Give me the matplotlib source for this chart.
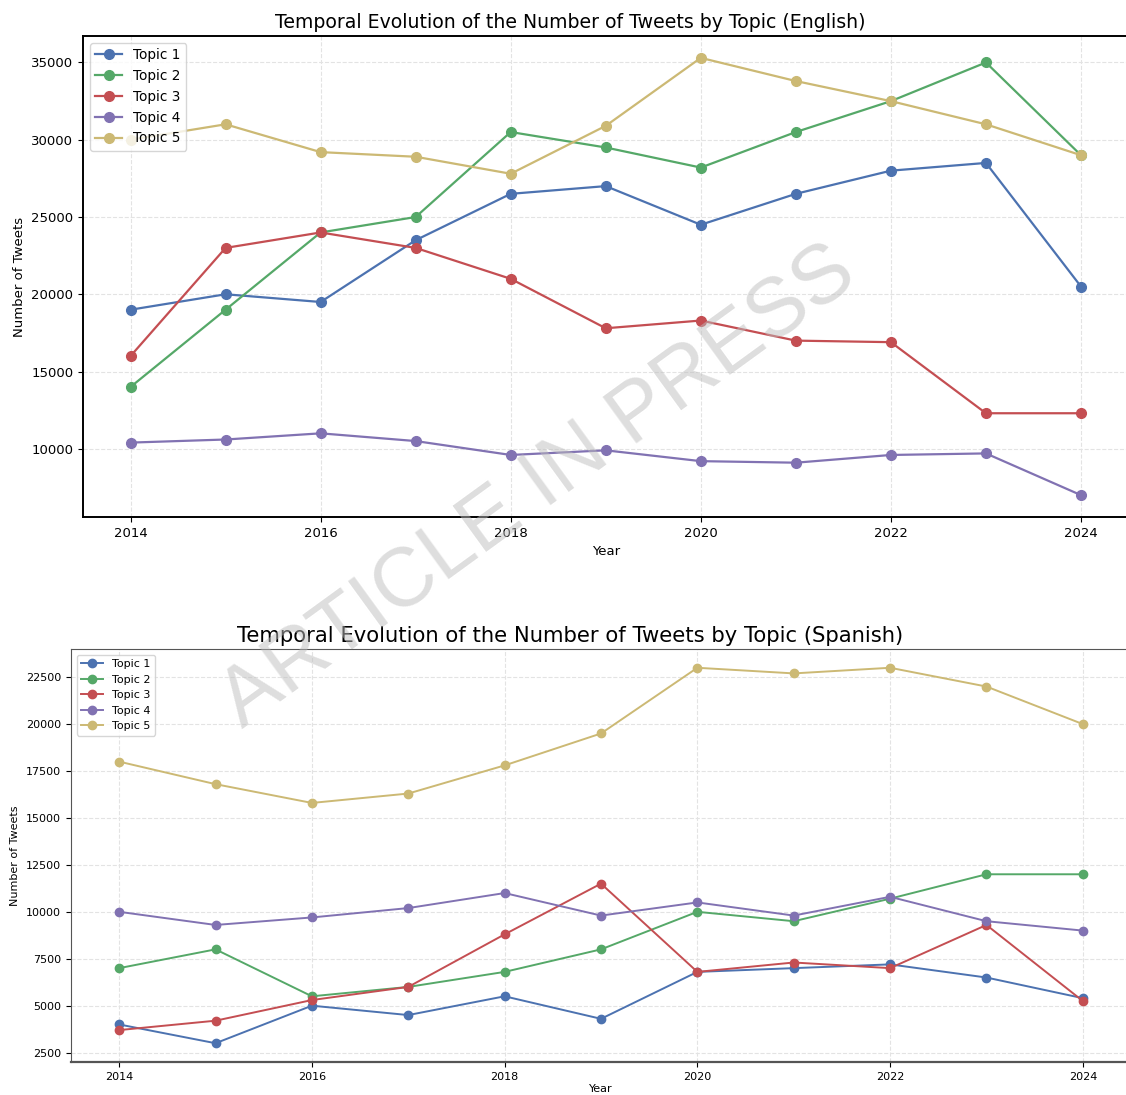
import numpy as np
import matplotlib
matplotlib.use("Agg")
import matplotlib.pyplot as plt

years = [2014, 2015, 2016, 2017, 2018, 2019, 2020, 2021, 2022, 2023, 2024]
topics = ["Topic 1", "Topic 2", "Topic 3", "Topic 4", "Topic 5"]
colors = ["#4C72B0", "#55A868", "#C44E52", "#8172B2", "#CCB974"]

en_topic1 = [19000, 20000, 19500, 23500, 26500, 27000, 24500, 26500, 28000, 28500, 20500]
en_topic2 = [14000, 19000, 24000, 25000, 30500, 29500, 28200, 30500, 32500, 35000, 29000]
en_topic3 = [16000, 23000, 24000, 23000, 21000, 17800, 18300, 17000, 16900, 12300, 12300]
en_topic4 = [10400, 10600, 11000, 10500, 9600, 9900, 9200, 9100, 9600, 9700, 7000]
en_topic5 = [30000, 31000, 29200, 28900, 27800, 30900, 35300, 33800, 32500, 31000, 29000]

es_topic1 = [4000, 3000, 5000, 4500, 5500, 4300, 6800, 7000, 7200, 6500, 5400]
es_topic2 = [7000, 8000, 5500, 6000, 6800, 8000, 10000, 9500, 10700, 12000, 12000]
es_topic3 = [3700, 4200, 5300, 6000, 8800, 11500, 6800, 7300, 7000, 9300, 5250]
es_topic4 = [10000, 9300, 9700, 10200, 11000, 9800, 10500, 9800, 10800, 9500, 9000]
es_topic5 = [18000, 16800, 15800, 16300, 17800, 19500, 23000, 22700, 23000, 22000, 20000]

english = [en_topic1, en_topic2, en_topic3, en_topic4, en_topic5]
spanish = [es_topic1, es_topic2, es_topic3, es_topic4, es_topic5]

W, H = 1126, 1095
fig = plt.figure(figsize=(W / 100, H / 100), dpi=100)


def box(x0, y0, x1, y1):
    return [x0 / W, 1 - y1 / H, (x1 - x0) / W, (y1 - y0) / H]


# top panel (English)
ax1 = fig.add_axes(box(83, 36, 1128.5, 517))
for vals, name, c in zip(english, topics, colors):
    ax1.plot(years, vals, marker="o", color=c, label=name, lw=1.6, ms=7)
ax1.set_title("Temporal Evolution of the Number of Tweets by Topic (English)",
              fontsize=13.6, x=0.466)
ax1.set_xlabel("Year", fontsize=9.5)
ax1.set_ylabel("Number of Tweets", fontsize=9.5)
ax1.tick_params(labelsize=9.5)
ax1.grid(True, ls="--", color="#e3e3e3", lw=0.8)
ax1.legend(loc="upper left", fontsize=9.8)
for s in ax1.spines.values():
    s.set_linewidth(1.4)

# bottom panel (Spanish)
ax2 = fig.add_axes(box(71, 649, 1131, 1062))
for vals, name, c in zip(spanish, topics, colors):
    ax2.plot(years, vals, marker="o", color=c, label=name, lw=1.4, ms=6)
ax2.set_title("Temporal Evolution of the Number of Tweets by Topic (Spanish)",
              fontsize=15.2, x=0.471, pad=5)
ax2.set_xlabel("Year", fontsize=8, labelpad=2)
ax2.set_ylabel("Number of Tweets", fontsize=8)
ax2.tick_params(labelsize=8)
ax2.grid(True, ls="--", color="#e3e3e3", lw=0.8)
ax2.legend(loc="upper left", fontsize=8)
for s in ax2.spines.values():
    s.set_color("#555555")
ax2.spines["bottom"].set_linewidth(1.6)

fig.text(0.478, 0.555, "ARTICLE IN PRESS", fontsize=60, color="#bdbdbd",
         family=["Liberation Sans", "DejaVu Sans"],
         rotation=36, ha="center", va="center", alpha=0.5, zorder=10)

fig.savefig("out.png", dpi=100)
